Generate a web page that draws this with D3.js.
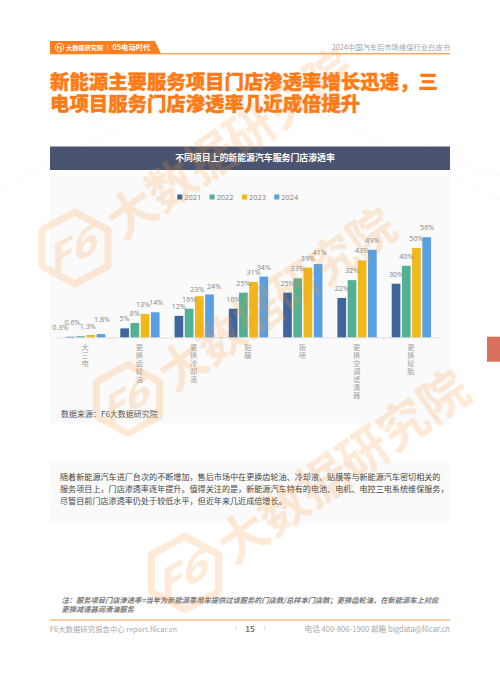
<!DOCTYPE html>
<html>
<head>
<meta charset="utf-8">
<script src="https://cdn.jsdelivr.net/npm/d3@7"></script>
<style>
  html, body { margin: 0; padding: 0; background: #fff; }
  svg { display: block; }
  text { font-family: "Open Sans", "Noto Sans CJK SC", sans-serif; }
  .cjk { font-family: "Noto Sans CJK SC", sans-serif; }
</style>
</head>
<body>
<svg id="page" width="500" height="674"></svg>
<script>
// Chart data
const categories = ["大三电", "更换齿轮油", "更换冷却液", "贴膜", "钣喷", "更换空调滤清器", "更换轮胎"];
const years = ["2021", "2022", "2023", "2024"];
const values2021 = [0.3, 5, 12, 16, 25, 22, 30];
const values2022 = [0.6, 8, 16, 25, 33, 32, 40];
const values2023 = [1.3, 13, 23, 31, 39, 43, 50];
const values2024 = [1.8, 14, 24, 34, 41, 49, 56];
const seriesValues = [values2021, values2022, values2023, values2024];
const seriesColors = ["#3f659c", "#52b095", "#f0b81b", "#599fe3"];

// hand placed label nudges, the original has labels moved off the bars: [category, year, dx, dy]
const labelNudges = [
    [0, 0, -10, 0], [0, 1, -8, -4], [0, 2, -3, 1], [0, 3, 1, -5],
    [1, 2, -2, 0], [1, 3, 1, 0],
    [2, 2, -2, 3], [2, 3, 4.5, 2],
    [4, 3, 1.7, -2], [6, 3, 0.5, 0]
];

const titleLines = ["新能源主要服务项目门店渗透率增长迅速，三", "电项目服务门店渗透率几近成倍提升"];
const bodyLines = [
    "随着新能源汽车进厂台次的不断增加，售后市场中在更换齿轮油、冷却液、贴膜等与新能源汽车密切相关的",
    "服务项目上，门店渗透率逐年提升。值得关注的是，新能源汽车特有的电池、电机、电控三电系统维保服务，",
    "尽管目前门店渗透率仍处于较低水平，但近年来几近成倍增长。"
];
const noteLines = [
    "注：服务项目门店渗透率=当年为新能源乘用车提供过该服务的门店数/总样本门店数；更换齿轮油，在新能源车上对应",
    "更换减速器润滑油服务"
];

const svg = d3.select("#page");

function addText(parent, x, y, str, size, color, opts = {}) {
    return parent.append("text")
        .attr("class", opts.latin ? null : "cjk")
        .attr("x", x)
        .attr("y", y)
        .attr("dominant-baseline", "central")
        .attr("text-anchor", opts.anchor || "start")
        .attr("font-size", size)
        .attr("font-weight", opts.weight || 400)
        .attr("font-style", opts.style || null)
        .attr("fill", color)
        .text(str);
}

// faint contour lines behind everything
const contours = svg.append("g").attr("fill", "none").attr("stroke", "#f4f4f4").attr("stroke-width", 0.7);
contours.append("path").attr("d", "M86,130 C130,100 210,92 260,100 C330,112 400,150 500,200");
contours.append("path").attr("d", "M0,190 C40,170 70,150 120,128");
contours.append("path").attr("d", "M420,140 C450,160 475,170 500,175");

// Page header
svg.append("path").attr("d", "M50,41 H155 L161,54 H50 Z").attr("fill", "#ff7f1e");
svg.append("rect").attr("x", 50).attr("y", 53.2).attr("width", 400).attr("height", 1.1).attr("fill", "#ff8a2e");
svg.append("circle").attr("cx", 59.5).attr("cy", 47.5).attr("r", 4.2).attr("fill", "none").attr("stroke", "#fff").attr("stroke-width", 0.8);
addText(svg, 59.5, 47.5, "F6", 4.5, "#fff", { anchor: "middle", weight: 700 });
addText(svg, 66, 47.2, "大数据研究院", 6.2, "#fff", { weight: 700 });
svg.append("rect").attr("x", 107).attr("y", 45).attr("width", 0.6).attr("height", 5).attr("fill", "#ffe0c4");
addText(svg, 112.5, 47.2, "05电动时代", 7.3, "#fff", { weight: 700 });
addText(svg, 450, 47, "2024中国汽车后市场维保行业白皮书", 7.3, "#a3a3a3", { anchor: "end" });

// Title
titleLines.forEach((line, i) => {
    addText(svg, 50, 80 + i * 22, line, 19.4, "#ff7a14", { weight: 900 })
        .attr("stroke", "#ff7a14").attr("stroke-width", 0.35);
});

// Chart header and panel
svg.append("rect").attr("x", 50).attr("y", 146.5).attr("width", 400).attr("height", 23.5).attr("fill", "#4a5470");
addText(svg, 255, 157.5, "不同项目上的新能源汽车服务门店渗透率", 8.9, "#fff", { anchor: "middle", weight: 700 });
svg.append("rect").attr("x", 50).attr("y", 176).attr("width", 400).attr("height", 247.5).attr("fill", "#fafafa");

// Scales
const baseline = 337.3;
const x0 = d3.scaleBand().domain(categories).range([58, 438]);
const x1 = d3.scaleBand().domain(years).range([8, x0.bandwidth() - 7]).paddingInner(0.15);
const y = d3.scaleLinear().domain([0, 60]).range([baseline, baseline - 107.2]);

// Legend
const legendX = d3.scalePoint().domain(years).range([177.3, 274.3]);
const legend = svg.append("g").selectAll("g").data(years).enter().append("g")
    .attr("transform", d => `translate(${legendX(d)},197)`);
legend.append("rect").attr("x", 0).attr("y", -2.5).attr("width", 5).attr("height", 5)
    .attr("fill", (d, i) => seriesColors[i]);
legend.append("text")
    .attr("x", 7).attr("dominant-baseline", "central")
    .attr("font-size", 7.4).attr("fill", "#808080")
    .text(d => d);

// Axis
const axisG = svg.append("g").attr("transform", `translate(0,${baseline})`)
    .call(d3.axisBottom(x0).tickSize(0).tickFormat(""));
axisG.select(".domain").attr("stroke", "#d9d9d9").attr("stroke-width", 0.8);
const edges = categories.map(c => x0(c)).concat([x0.range()[1]]);
svg.append("g").selectAll("line").data(edges).enter().append("line")
    .attr("x1", d => d).attr("x2", d => d)
    .attr("y1", baseline).attr("y2", baseline + 2.2)
    .attr("stroke", "#d9d9d9").attr("stroke-width", 0.8);

// Vertical category labels
svg.append("g").selectAll("text").data(categories).enter().append("text")
    .attr("class", "cjk")
    .attr("x", d => x0(d) + x0.bandwidth() / 2)
    .attr("y", 343.5)
    .attr("font-size", 7.3)
    .attr("letter-spacing", 0.7)
    .attr("fill", "#a2a2a2")
    .style("writing-mode", "vertical-rl")
    .style("text-orientation", "upright")
    .text(d => d);

// Bars
const barData = seriesValues.flatMap((vals, s) => vals.map((v, c) => ({ v, c, s })));
svg.append("g").selectAll("rect").data(barData).enter().append("rect")
    .attr("x", d => x0(categories[d.c]) + x1(years[d.s]))
    .attr("y", d => y(d.v))
    .attr("width", x1.bandwidth())
    .attr("height", d => baseline - y(d.v))
    .attr("fill", d => seriesColors[d.s]);

// Value labels
const nudge = (d, k) => {
    const n = labelNudges.find(a => a[0] === d.c && a[1] === d.s);
    return n ? n[k] : 0;
};
svg.append("g").selectAll("text").data(barData).enter().append("text")
    .attr("x", d => x0(categories[d.c]) + x1(years[d.s]) + x1.bandwidth() / 2 + nudge(d, 2))
    .attr("y", d => y(d.v) - 10 + nudge(d, 3))
    .attr("text-anchor", "middle")
    .attr("dominant-baseline", "central")
    .attr("font-size", 7.2)
    .attr("fill", "#858585")
    .text(d => d.v + "%");

addText(svg, 61, 413, "数据来源：F6大数据研究院", 8, "#555");

// Body text
svg.append("rect").attr("x", 50).attr("y", 461).attr("width", 400).attr("height", 61.7).attr("fill", "#fafafa");
bodyLines.forEach((line, i) => {
    addText(svg, 60, 476 + i * 12, line, 8.1, "#444");
});

// Note and footer
noteLines.forEach((line, i) => {
    addText(svg, 61.5, 600 + i * 9, line, 7.25, "#7a7a7a", { style: "italic", weight: 700 });
});
svg.append("rect").attr("x", 50).attr("y", 619.5).attr("width", 400).attr("height", 1).attr("fill", "#ff9a45");
addText(svg, 50, 628, "F6大数据研究报告中心 report.f6car.cn", 7.4, "#a8a8a8");
addText(svg, 250, 628, "15", 8, "#777", { anchor: "middle", weight: 700 });
svg.append("rect").attr("x", 235.5).attr("y", 626).attr("width", 0.6).attr("height", 5).attr("fill", "#ccc");
svg.append("rect").attr("x", 264.5).attr("y", 626).attr("width", 0.6).attr("height", 5).attr("fill", "#ccc");
addText(svg, 450, 628, "电话 400-806-1900  邮箱 bigdata@f6car.cn", 7.65, "#a8a8a8", { anchor: "end" });

// Right page tab
svg.append("rect").attr("x", 487).attr("y", 336.7).attr("width", 13).attr("height", 25).attr("fill", "#d9705c");

// Watermarks on top of everything
const stamps = [[75, 248, 1], [128, 399, 0.96], [185, 573, 1.02]];
const hexagon = "M0,-36 L33,-18 L33,18 L0,36 L-33,18 L-33,-18 Z";
const stampG = svg.append("g").selectAll("g").data(stamps).enter().append("g")
    .attr("transform", d => `translate(${d[0]},${d[1]}) scale(${d[2]})`)
    .attr("opacity", 0.2);
stampG.append("path").attr("d", hexagon)
    .attr("fill", "none").attr("stroke", "#f79433").attr("stroke-width", 7).attr("stroke-linejoin", "round");
stampG.append("text")
    .attr("transform", "skewY(-28)")
    .attr("text-anchor", "middle")
    .attr("y", 15)
    .attr("font-size", 42)
    .attr("font-weight", 700)
    .attr("fill", "#f79433")
    .text("F6");
stampG.append("text")
    .attr("class", "cjk")
    .attr("transform", "rotate(-35)")
    .attr("x", 43)
    .attr("dominant-baseline", "central")
    .attr("font-size", 48)
    .attr("font-weight", 700)
    .attr("fill", "#f79433")
    .text("大数据研究院");
</script>
</body>
</html>
